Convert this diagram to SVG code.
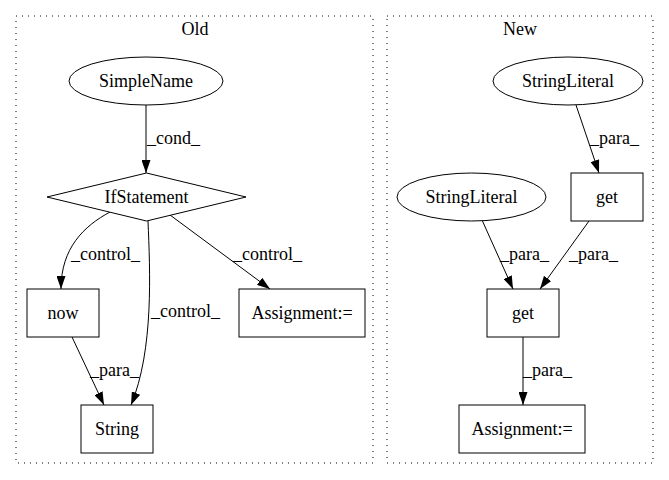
<svg xmlns="http://www.w3.org/2000/svg" width="669" height="480" viewBox="0 0 669 480">
<defs>
<marker id="arr" viewBox="0 0 13 9" refX="13" refY="4.5" markerWidth="13" markerHeight="9" markerUnits="userSpaceOnUse" orient="auto">
<path d="M0,0 L13,4.5 L0,9 z" fill="#000"/>
</marker>
<style>
text{font-family:"Liberation Serif","Times New Roman",serif;font-size:18px;fill:#000}
.c{text-anchor:middle}
.node{fill:#fff;stroke:#000;stroke-width:1}
.cl{fill:none;stroke:#000;stroke-width:1;stroke-dasharray:1,5}
.e{fill:none;stroke:#000;stroke-width:1;marker-end:url(#arr)}
</style>
</defs>
<rect width="669" height="480" fill="#fff"/>
<g id="cluster_old">
<rect class="cl" x="16" y="16" width="357" height="447"/>
<text class="c" x="195" y="35">Old</text>
</g>
<g id="cluster_new">
<rect class="cl" x="387" y="16" width="266" height="447"/>
<text class="c" x="520" y="35">New</text>
</g>
<g id="edges">
<path class="e" d="M146,105 L146,173"/>
<text x="147" y="144">_cond_</text>
<path class="e" d="M110,212 C84,226 61,248 61,289"/>
<text x="71" y="260">_control_</text>
<path class="e" d="M148,221 C150,270 154,350 131,405"/>
<text x="151" y="317">_control_</text>
<path class="e" d="M170,215 L270,289"/>
<text x="233" y="260">_control_</text>
<path class="e" d="M72,337 L104,405"/>
<text x="90" y="376">_para_</text>
<path class="e" d="M576,105 L599,173"/>
<text x="590" y="144">_para_</text>
<path class="e" d="M482,220 L513,289"/>
<text x="500" y="260">_para_</text>
<path class="e" d="M589,221 L540,289"/>
<text x="569" y="260">_para_</text>
<path class="e" d="M523,337 L523,405"/>
<text x="523" y="376">_para_</text>
</g>
<g id="n_simplename">
<ellipse class="node" cx="146" cy="81" rx="77" ry="24"/>
<text class="c" x="146" y="87">SimpleName</text>
</g>
<g id="n_ifstatement">
<polygon class="node" points="146.5,173 246,197 146.5,221 47,197"/>
<text class="c" x="146.5" y="203">IfStatement</text>
</g>
<g id="n_now">
<rect class="node" x="27" y="289" width="72" height="48"/>
<text class="c" x="63" y="319">now</text>
</g>
<g id="n_string">
<rect class="node" x="81" y="405" width="72" height="48"/>
<text class="c" x="117" y="435">String</text>
</g>
<g id="n_assign_old">
<rect class="node" x="239" y="289" width="126" height="48"/>
<text class="c" x="302" y="319">Assignment:=</text>
</g>
<g id="n_sl_top">
<ellipse class="node" cx="568" cy="81" rx="75" ry="24"/>
<text class="c" x="568" y="87">StringLiteral</text>
</g>
<g id="n_get_top">
<rect class="node" x="571" y="173" width="72" height="48"/>
<text class="c" x="607" y="203">get</text>
</g>
<g id="n_sl_left">
<ellipse class="node" cx="471.5" cy="197" rx="74.5" ry="24"/>
<text class="c" x="471.5" y="203">StringLiteral</text>
</g>
<g id="n_get_bottom">
<rect class="node" x="487" y="289" width="72" height="48"/>
<text class="c" x="523" y="319">get</text>
</g>
<g id="n_assign_new">
<rect class="node" x="459" y="405" width="126" height="48"/>
<text class="c" x="522" y="435">Assignment:=</text>
</g>
</svg>
